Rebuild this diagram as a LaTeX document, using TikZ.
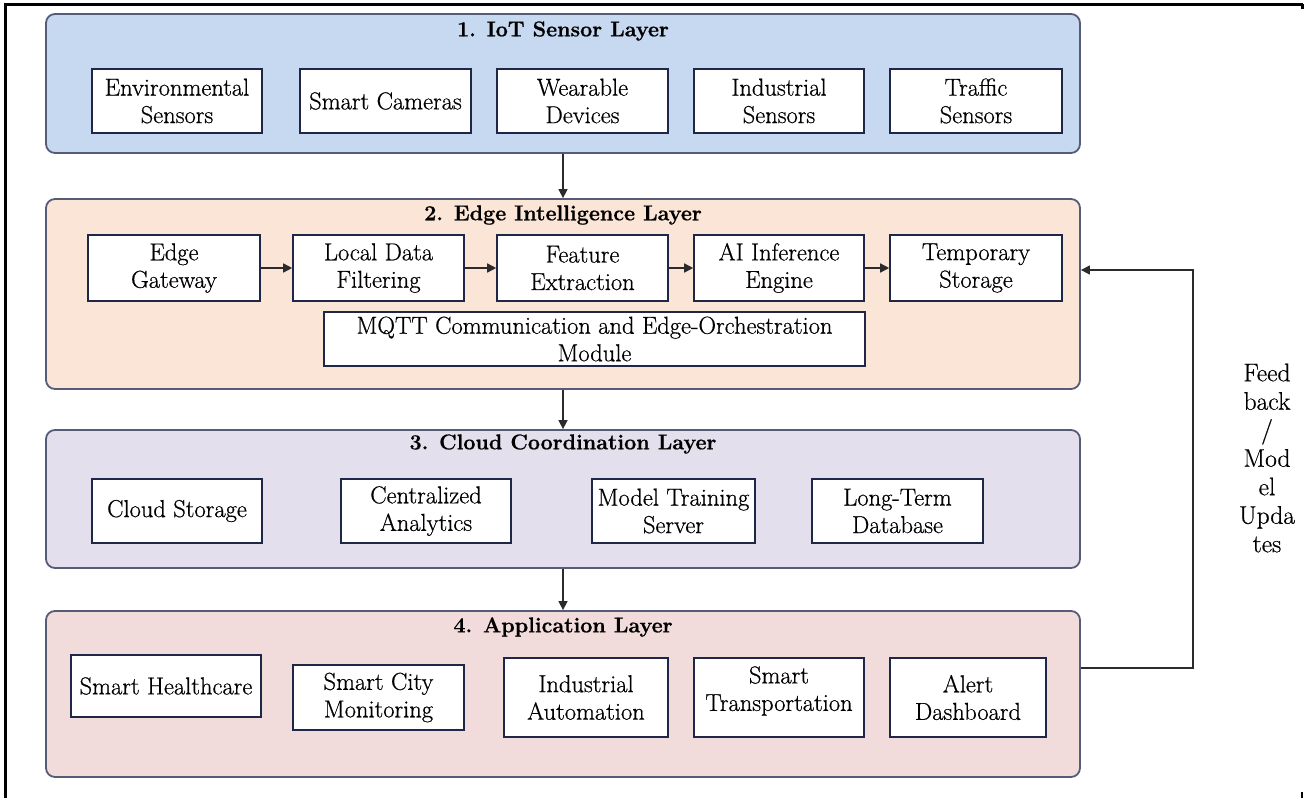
\documentclass[tikz,border=0pt]{standalone}
\usepackage{fontspec}
\setmainfont{Latin Modern Roman}[UprightFeatures={FakeBold=0.6}, BoldFeatures={FakeBold=0.7}]
\usetikzlibrary{arrows.meta}

\definecolor{sensorfill}{HTML}{C6D9F0}
\definecolor{edgefill}{HTML}{FBE5D6}
\definecolor{cloudfill}{HTML}{E4DFEC}
\definecolor{appfill}{HTML}{F2DCDB}
\definecolor{layerline}{HTML}{565B78}
\definecolor{cellline}{HTML}{1F2748}
\definecolor{arrowline}{HTML}{2B2B2B}

\tikzset{
  layer/.style={draw=layerline, line width=1.8pt, rounded corners=9pt, inner sep=0pt},
  layertitle/.style={font=\fontsize{21.5}{27}\selectfont\bfseries, inner sep=0pt},
  celltext/.style={inner sep=0pt, align=center, font=\fontsize{24.5}{27.5}\selectfont},
  cell/.style={celltext, draw=cellline, line width=1.6pt, fill=white},
  flow/.style={draw=arrowline, line width=1.5pt, -{Triangle[length=9pt,width=9pt]}},
  fbtext/.style={align=center, inner sep=0pt, font=\fontsize{25.5}{28.5}\selectfont}
}

\newcommand{\cellat}[6]{% name, cx, cy, w, h, text
  \node[cell, minimum width=#4pt, minimum height=#5pt] (#1) at (#2,#3) {#6};}

\begin{document}
\begin{tikzpicture}[x=1pt,y=-1pt]
\useasboundingbox (0,0) rectangle (1304,798);

% page frame fragments
\draw[line width=3pt] (5,798) -- (5,4.5) -- (1303,4.5);
\draw[line width=3pt] (1302,4) -- (1302,9);
\fill (1300.5,792) rectangle (1303,798);

% layers
\node[layer, fill=sensorfill, minimum width=1034pt, minimum height=139pt] (ly1) at (563,83.5) {};
\node[layer, fill=edgefill,   minimum width=1034pt, minimum height=190pt] (ly2) at (563,294) {};
\node[layer, fill=cloudfill,  minimum width=1034pt, minimum height=138pt] (ly3) at (563,499) {};
\node[layer, fill=appfill,    minimum width=1034pt, minimum height=166pt] (ly4) at (563,694) {};

\node[layertitle] (t1) at (563,31)  {1. IoT Sensor Layer};
\node[layertitle] (t2) at (563,215) {2. Edge Intelligence Layer};
\node[layertitle] (t3) at (563,444) {3. Cloud Coordination Layer};
\node[layertitle] (t4) at (563,627) {4. Application Layer};

% 1. sensor layer
\cellat{env}{177}{101}{170}{64}{Environmental\\Sensors}
\cellat{cam}{385.5}{101}{171}{64}{Smart Cameras}
\cellat{wear}{582.5}{101}{171}{64}{Wearable\\Devices}
\cellat{indsens}{779}{101}{170}{64}{Industrial\\Sensors}
\cellat{traf}{976}{101}{172}{64}{Traffic\\Sensors}

% 2. edge layer
\cellat{gw}{174}{268}{172}{66}{Edge\\Gateway}
\cellat{filt}{378.5}{268}{171}{66}{Local Data\\Filtering}
\cellat{feat}{582.5}{268}{171}{66}{Feature\\Extraction}
\cellat{ai}{779}{268}{170}{66}{AI Inference\\Engine}
\cellat{tmp}{976}{268}{172}{66}{Temporary\\Storage}
\cellat{mqtt}{594.5}{339}{541}{54}{MQTT Communication and Edge-Orchestration\\Module}

\draw[flow] (gw) -- (filt);
\draw[flow] (filt) -- (feat);
\draw[flow] (feat) -- (ai);
\draw[flow] (ai) -- (tmp);

% 3. cloud layer
\cellat{cs}{177}{511}{170}{64}{Cloud Storage}
\cellat{ca}{426}{511}{170}{64}{Centralized\\Analytics}
\cellat{mt}{673.5}{511}{163}{64}{Model Training\\Server}
\cellat{ltd}{897.5}{511}{171}{64}{Long-Term\\Database}

% 4. application layer
\cellat{sh}{166}{686}{190}{62}{Smart Healthcare}
\cellat{scm}{378.5}{697.5}{171}{65}{Smart City\\Monitoring}
\cellat{ia}{586}{697.5}{164}{79}{Industrial\\Automation}
\cellat{st}{779}{697.5}{170}{79}{}
\node[celltext] (st-text) at (779,691) {Smart\\Transportation};
\cellat{ad}{968}{697.5}{156}{79}{Alert\\Dashboard}

% flow between layers
\draw[flow] (ly1.south) -- (ly2.north);
\draw[flow] (ly2.south) -- (ly3.north);
\draw[flow] (ly3.south) -- (ly4.north);

% feedback loop
\draw[flow] ([yshift=26pt]ly4.east) -- ++(112,0) |- ([yshift=24pt]ly2.east);
\node[fbtext] (fb) at (1267,458) {Feed\\back\\/\\Mod\\el\\Upda\\tes};

\end{tikzpicture}
\end{document}
